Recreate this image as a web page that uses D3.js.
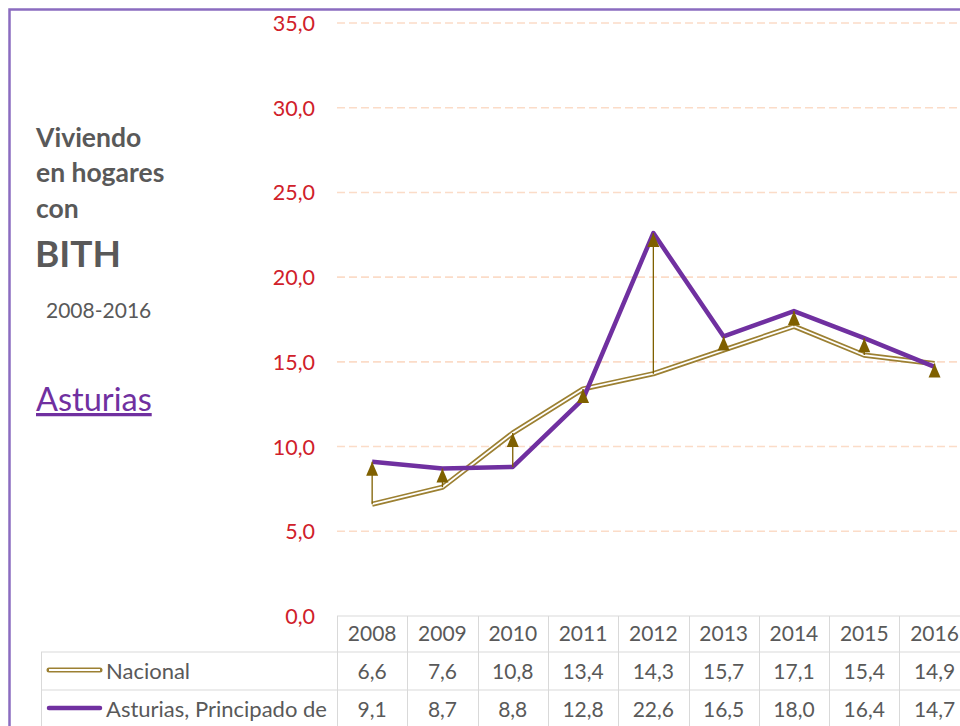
<!DOCTYPE html>
<html>
<head>
<meta charset="utf-8">
<script src="https://cdn.jsdelivr.net/npm/d3@7"></script>
<style>
  body { margin: 0; background: #fff; }
  svg { display: block; font-family: Lato, "Open Sans", sans-serif; }
</style>
</head>
<body>
<div id="chart"></div>
<script>
// data
var years = ["2008", "2009", "2010", "2011", "2012", "2013", "2014", "2015", "2016"];
var nacional = [6.6, 7.6, 10.8, 13.4, 14.3, 15.7, 17.1, 15.4, 14.9];
var asturias = [9.1, 8.7, 8.8, 12.8, 22.6, 16.5, 18.0, 16.4, 14.7];
var yTicks = [0, 5, 10, 15, 20, 25, 30, 35];
var seriesNames = ["Nacional", "Asturias, Principado de"];

var width = 960, height = 726;
var purple = "#7030a0", gold = "#9c8032", arrowCol = "#7f6000", gray = "#595959";

var svg = d3.select("#chart").append("svg")
  .attr("width", width)
  .attr("height", height);

// frame
svg.append("rect")
  .attr("x", 9.5).attr("y", 9.5)
  .attr("width", 980).attr("height", 760)
  .attr("fill", "none")
  .attr("stroke", "#8b6cc0")
  .attr("stroke-width", 2.5);

var x = d3.scaleBand().domain(years).range([337, 337 + 9 * 70.3]);
var y = d3.scaleLinear().domain([0, 35]).range([616, 23]);
var cx = function(d) { return x(d) + x.bandwidth() / 2; };

// gridlines
svg.append("g").selectAll("line")
  .data(yTicks.filter(function(t) { return t > 0; }))
  .enter().append("line")
  .attr("x1", 337).attr("x2", width)
  .attr("y1", function(d) { return y(d); })
  .attr("y2", function(d) { return y(d); })
  .attr("stroke", "#fbdcc8")
  .attr("stroke-width", 1.6)
  .attr("stroke-dasharray", "8,4");

// y axis labels
var fmt = function(v) { return d3.format(".1f")(v).replace(".", ","); };
var yAxis = d3.axisLeft(y).tickValues(yTicks).tickFormat(fmt).tickSize(0).tickPadding(0);
var ya = svg.append("g").attr("transform", "translate(315,0)").call(yAxis);
ya.select(".domain").remove();
ya.selectAll("text")
  .attr("fill", "#d0202a")
  .style("font-size", "21.5px")
  .style("font-family", "Lato, sans-serif")
  .attr("dy", "0.35em");

// lines
var rowsN = years.map(function(d, i) { return {year: d, v: nacional[i]}; });
var rowsA = years.map(function(d, i) { return {year: d, v: asturias[i]}; });
var line = d3.line().x(function(d) { return cx(d.year); }).y(function(d) { return y(d.v); });

svg.append("path").datum(rowsN).attr("d", line)
  .attr("fill", "none").attr("stroke", gold).attr("stroke-width", 5.2).attr("stroke-linejoin", "round");
svg.append("path").datum(rowsN).attr("d", line)
  .attr("fill", "none").attr("stroke", "#fff").attr("stroke-width", 1.8).attr("stroke-linejoin", "round");

// difference arrows
var arrows = svg.append("g");
years.forEach(function(d, i) {
  var px = cx(d);
  arrows.append("line")
    .attr("x1", px).attr("x2", px)
    .attr("y1", y(nacional[i])).attr("y2", y(asturias[i]))
    .attr("stroke", arrowCol).attr("stroke-width", 1.3);
});

svg.append("path").datum(rowsA).attr("d", line)
  .attr("fill", "none").attr("stroke", purple).attr("stroke-width", 4.5).attr("stroke-linejoin", "round");

years.forEach(function(d, i) {
  var px = cx(d);
  var tip = y(Math.max(nacional[i], asturias[i]));
  arrows.append("path")
    .attr("d", "M" + px + "," + tip + "L" + (px - 6) + "," + (tip + 14) + "L" + (px + 6) + "," + (tip + 14) + "Z")
    .attr("fill", arrowCol);
});
svg.node().appendChild(arrows.node());

// data table
var tbl = svg.append("g");
var rowY = [616, 652, 690, 728];
var grid = "#d9d9d9";
tbl.append("line").attr("x1", 337).attr("x2", width).attr("y1", rowY[0]).attr("y2", rowY[0]).attr("stroke", grid);
tbl.append("line").attr("x1", 41).attr("x2", width).attr("y1", rowY[1]).attr("y2", rowY[1]).attr("stroke", grid);
tbl.append("line").attr("x1", 41).attr("x2", width).attr("y1", rowY[2]).attr("y2", rowY[2]).attr("stroke", grid);
tbl.append("line").attr("x1", 41.5).attr("x2", 41.5).attr("y1", rowY[1]).attr("y2", height).attr("stroke", grid);
tbl.selectAll(".vl").data(years).enter().append("line")
  .attr("x1", function(d) { return Math.round(x(d)) + 0.5; })
  .attr("x2", function(d) { return Math.round(x(d)) + 0.5; })
  .attr("y1", rowY[0]).attr("y2", height).attr("stroke", grid);

tbl.selectAll(".yr").data(years).enter().append("text")
  .attr("x", cx).attr("y", 641)
  .attr("text-anchor", "middle").attr("fill", gray).style("font-size", "21px")
  .text(function(d) { return d; });

[nacional, asturias].forEach(function(arr, r) {
  tbl.selectAll(".v" + r).data(years).enter().append("text")
    .attr("x", cx).attr("y", r === 0 ? 679 : 717)
    .attr("text-anchor", "middle").attr("fill", gray).style("font-size", "21px")
    .text(function(d, i) { return fmt(arr[i]); });
});

// legend keys in table
var ly = [670, 708];
tbl.append("line").attr("x1", 49).attr("x2", 100).attr("y1", ly[0]).attr("y2", ly[0])
  .attr("stroke", gold).attr("stroke-width", 5).attr("stroke-linecap", "round");
tbl.append("line").attr("x1", 49).attr("x2", 100).attr("y1", ly[0]).attr("y2", ly[0])
  .attr("stroke", "#fff").attr("stroke-width", 1.8);
tbl.append("line").attr("x1", 49).attr("x2", 100).attr("y1", ly[1]).attr("y2", ly[1])
  .attr("stroke", purple).attr("stroke-width", 4.5).attr("stroke-linecap", "round");
seriesNames.forEach(function(n, i) {
  tbl.append("text").attr("x", 106).attr("y", i === 0 ? 679 : 717)
    .attr("fill", gray).style("font-size", "22px").text(n);
});

// title block
var tt = svg.append("g").attr("fill", gray);
tt.append("text").attr("x", 36).attr("y", 147).style("font-size", "26.5px").style("font-weight", "bold").text("Viviendo");
tt.append("text").attr("x", 36).attr("y", 182).style("font-size", "26.5px").style("font-weight", "bold").text("en hogares");
tt.append("text").attr("x", 36).attr("y", 218).style("font-size", "26.5px").style("font-weight", "bold").text("con");
tt.append("text").attr("x", 35).attr("y", 267).style("font-size", "37px").style("font-weight", "bold").text("BITH");
tt.append("text").attr("x", 46).attr("y", 318).style("font-size", "21px").text("2008-2016");
tt.append("text").attr("x", 36).attr("y", 411).attr("fill", purple).style("font-size", "32.5px")
  .style("text-decoration", "underline").text("Asturias");
</script>
</body>
</html>
